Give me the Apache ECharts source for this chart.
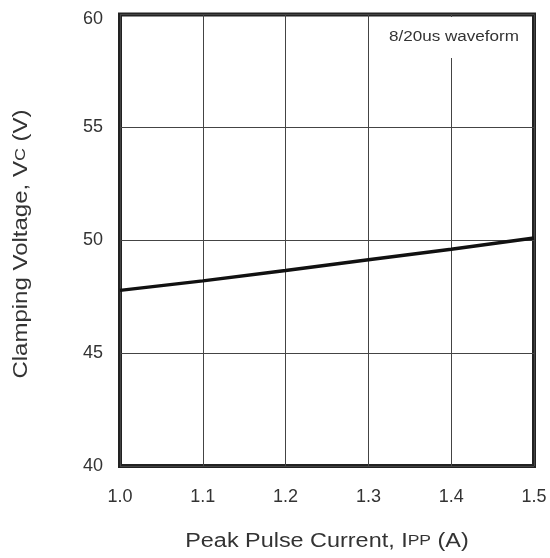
<!DOCTYPE html>
<html><head><meta charset="utf-8">
<script src="https://cdn.jsdelivr.net/npm/echarts@6/dist/echarts.min.js"></script>
<style>html,body{margin:0;padding:0;background:#fff}#c{width:550px;height:558px}</style>
</head><body><div id="c"></div>
<script>
const currents = [1.0, 1.1, 1.2, 1.3, 1.4, 1.5];
const clampVoltage = [47.78, 48.2, 48.66, 49.14, 49.6, 50.1];
const xTicks = ['1.0','1.1','1.2','1.3','1.4','1.5'];
const yTicks = [40, 45, 50, 55, 60];
const xName = 'Peak Pulse Current, I{s|PP} (A)';
const yName = 'Clamping Voltage, V{s|C} (V)';
const note = '8/20us waveform';

const chart = echarts.init(document.getElementById('c'));
const FONT = 'Liberation Sans, Arial, sans-serif';
const TXT = '#333';
chart.setOption({
  animation: false,
  backgroundColor: '#fff',
  grid: { left: 120, right: 16, top: 14.5, bottom: 92, show: true, borderWidth: 4, borderColor: '#222', backgroundColor: 'transparent' },
  xAxis: {
    type: 'value', min: 1.0, max: 1.5, interval: 0.1,
    axisLine: { show: false }, axisTick: { show: false },
    splitLine: { show: true, lineStyle: { color: '#444', width: 1 } },
    axisLabel: { fontFamily: FONT, fontSize: 18, color: TXT, margin: 22,
      formatter: v => xTicks[Math.round((v - 1.0) * 10)] }
  },
  yAxis: {
    type: 'value', min: 40, max: 60, interval: 5,
    axisLine: { show: false }, axisTick: { show: false },
    splitLine: { show: true, lineStyle: { color: '#444', width: 1 } },
    axisLabel: { fontFamily: FONT, fontSize: 18, color: TXT, margin: 17,
      formatter: v => v === 60 ? '{top|60}' : (yTicks.includes(v) ? String(v) : ''),
      rich: { top: { fontFamily: FONT, fontSize: 18, color: TXT, padding: [10, 0, 0, 0] } } }
  },
  graphic: [
    { type: 'rect', shape: { x: 386, y: 17, width: 136, height: 41 }, style: { fill: '#fff' }, z: 10 },
    { type: 'text', x: 454, y: 37, z: 11, scaleX: 1.22,
      style: { text: note, fontFamily: FONT, fontSize: 14, fill: TXT, align: 'center', verticalAlign: 'middle' } },
    { type: 'text', x: 327, y: 541, z: 11, scaleX: 1.17,
      style: { text: xName, fontFamily: FONT, fontSize: 20, fill: TXT, align: 'center', verticalAlign: 'middle',
        rich: { s: { fontFamily: FONT, fontSize: 15, fill: TXT } } } },
    { type: 'text', x: 21, y: 244, z: 11, rotation: Math.PI / 2, scaleX: 1.2,
      style: { text: yName, fontFamily: FONT, fontSize: 20, fill: TXT, align: 'center', verticalAlign: 'middle',
        rich: { s: { fontFamily: FONT, fontSize: 15, fill: TXT } } } }
  ],
  series: [{
    type: 'line', data: currents.map((c, i) => [c, clampVoltage[i]]),
    showSymbol: false, lineStyle: { color: '#111', width: 3.5 }, z: 5
  }]
});
</script></body></html>
